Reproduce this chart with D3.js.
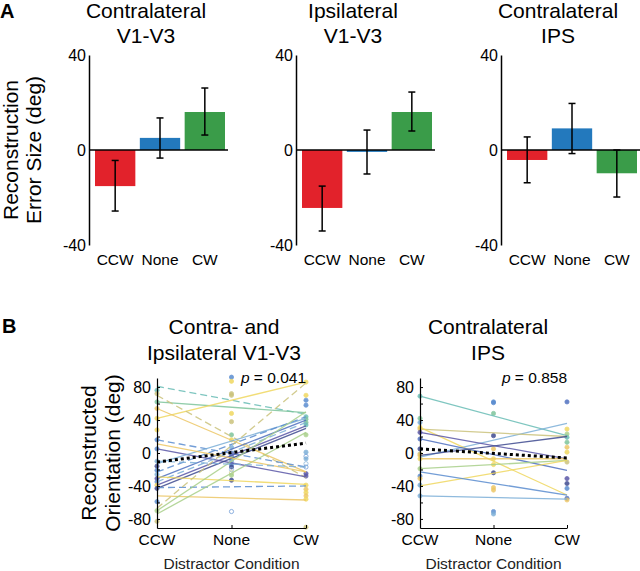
<!DOCTYPE html>
<html><head><meta charset="utf-8">
<script src="https://cdn.jsdelivr.net/npm/d3@7"></script>
<style>
body{margin:0;background:#fff;}
svg{display:block;font-family:"Liberation Sans",Arial,sans-serif;}
</style></head>
<body><svg id="c" width="640" height="571"></svg>
<script>
// ---------- DATA ----------
const categories = ["CCW", "None", "CW"];
const barTitles = [["Contralateral", "V1-V3"], ["Ipsilateral", "V1-V3"], ["Contralateral", "IPS"]];
const barMeans = [[-15.2, 5.1, 16.0], [-24.4, -0.8, 16.0], [-4.2, 9.1, -9.8]];
const barErrLow = [[-25.7, -3.4, 6.3], [-34.1, -10.1, 8.0], [-13.8, -1.5, -19.8]];
const barErrHigh = [[-4.4, 13.5, 26.1], [-15.2, 8.4, 24.4], [5.5, 19.6, 0.0]];
const barTicks = [-40, 0, 40];

const scatTitles = [["Contra- and", "Ipsilateral V1-V3"], ["Contralateral", "IPS"]];
const pValues = ["0.041", "0.858"];
const scatTicks = [-80, -40, 0, 40, 80];

// subject regression lines (value at CCW, value at CW), colour group, dashed
const leftLineCCW = [81, 62, 42, 70, 54, 16, 5, -13, -23, -31, -35, -39, -43, -42, -29, -52, -70, -67, -74, 11, -10];
const leftLineCW  = [47, 49, 86, -30, -23, -17, -29, 42, 44, 40, 37, 33, 30, -40, -38, -57, 50, 85, 25, -23, -17];
const leftLineGrp = [5, 4, 0, 2, 1, 7, 9, 6, 7, 8, 6, 9, 10, 7, 0, 1, 3, 2, 3, 1, 6];
const leftLineDash = [1, 0, 0, 1, 0, 1, 0, 0, 1, 0, 1, 0, 0, 1, 0, 0, 0, 1, 0, 0, 1];
const leftMeanLine = [-11, 12];

const rightLineCCW = [69, -5, 29, 31, 25, 17, -3, -7, -19, -40, -23, -52];
const rightLineCW  = [21, 36, 20, -51, -7, -21, 20, -7, -9, -9, -51, -56];
const rightLineGrp = [5, 6, 2, 0, 9, 8, 10, 1, 3, 0, 7, 6];
const rightMeanLine = [5, -6];

// subject points per condition
const leftPtsCCW = [76, 72, 62, 54, 42, 28, 16, 5, -10, -16, -21, -26, -31, -35, -39, -43, -59, -70, -83];
const leftGrpCCW = [5, 2, 4, 1, 0, 0, 7, 7, 6, 10, 7, 6, 9, 7, 0, 10, 7, 3, 2];
const leftPtsNone = [92, 87, 72, 70, 48, 38, 22, 16, 7, 0, -4, -7, -10, -14, -17, -20, -24, -27, -33, -71];
const leftGrpNone = [7, 0, 2, 2, 0, 2, 4, 0, 6, 9, 7, 3, 6, 7, 10, 6, 2, 3, 10, 7];
const leftPtsCW = [86, 70, 64, 58, 44, 41, 37, 34, 22, 1, -4, -7, -13, -17, -25, -28, -39, -44, -48, -52, -56, -90];
const leftGrpCW = [0, 0, 7, 7, 5, 4, 4, 5, 3, 6, 7, 6, 6, 7, 9, 9, 0, 1, 0, 1, 0, 2];
const leftHollowNone = [-71, -24, -20];
const leftHollowCW = [-4, -13, -17];

const rightPtsCCW = [69, 42, 37, 31, 29, 25, 17, 5, -1, -3, -7, -19, -28, -31, -39, -52];
const rightGrpCCW = [5, 4, 6, 0, 1, 9, 8, 10, 2, 1, 0, 3, 7, 1, 6, 6];
const rightPtsNone = [62, 61, 48, 21, 5, -7, -14, -24, -42, -45, -71, -74];
const rightGrpNone = [7, 7, 4, 10, 1, 0, 0, 10, 1, 1, 7, 6];
const rightPtsCW = [62, 29, 23, 19, 13, 7, 1, -11, -31, -37, -43, -55, -57];
const rightGrpCW = [8, 0, 3, 5, 4, 1, 0, 2, 9, 10, 7, 8, 1];

// ---------- STYLE ----------
const barColors = ["#e2222b", "#2379bd", "#3a9c49"];
const palette = ["#f0d860", "#edc766", "#cbc37c", "#a9d08a", "#7ec59c", "#69bdb6",
                 "#7cafd8", "#5b8dd0", "#4f70c0", "#5b58a8", "#3f4b90"];
const FONT_T = 21, FONT_S = 15.5, FONT_TK = 16;

const svg = d3.select("#c");

// ---------- PANEL A ----------
svg.append("text").attr("x", 0).attr("y", 18).attr("font-size", 20).attr("font-weight", "bold").text("A");
svg.append("text").attr("transform", "translate(18,150) rotate(-90)").attr("text-anchor", "middle")
  .attr("font-size", FONT_T).text("Reconstruction");
svg.append("text").attr("transform", "translate(41,150) rotate(-90)").attr("text-anchor", "middle")
  .attr("font-size", FONT_T).text("Error Size (deg)");

const yA = d3.scaleLinear().domain([-40, 40]).range([245, 55]);
const axA = [89, 296, 501];
barMeans.forEach((means, i) => {
  const g = svg.append("g").attr("transform", `translate(${axA[i]},0)`);
  const x = d3.scaleBand().domain(categories).range([6, 136]).paddingInner(0.1);
  g.selectAll("rect.bar").data(categories).enter().append("rect")
    .attr("x", c => x(c)).attr("width", x.bandwidth())
    .attr("y", (c, j) => yA(Math.max(0, means[j])))
    .attr("height", (c, j) => Math.abs(yA(means[j]) - yA(0)))
    .attr("fill", (c, j) => barColors[j]);
  g.append("line").attr("x1", 0).attr("x2", 139).attr("y1", yA(0)).attr("y2", yA(0))
    .attr("stroke", "#000").attr("stroke-width", 1.5);
  categories.forEach((c, j) => {
    const cx = x(c) + x.bandwidth() / 2;
    g.append("line").attr("x1", cx).attr("x2", cx).attr("y1", yA(barErrLow[i][j])).attr("y2", yA(barErrHigh[i][j]))
      .attr("stroke", "#000").attr("stroke-width", 1.5);
    [barErrLow[i][j], barErrHigh[i][j]].forEach(v => {
      g.append("line").attr("x1", cx - 3.5).attr("x2", cx + 3.5).attr("y1", yA(v)).attr("y2", yA(v))
        .attr("stroke", "#000").attr("stroke-width", 1.5);
    });
    g.append("text").attr("x", cx).attr("y", 265).attr("text-anchor", "middle")
      .attr("font-size", FONT_S).text(c);
  });
  const ax = g.append("g").call(d3.axisLeft(yA).tickValues(barTicks).tickSize(0).tickPadding(3).tickFormat(d => String(d)));
  ax.select(".domain").attr("stroke-width", 1.5);
  ax.selectAll("text").attr("font-size", FONT_TK).attr("font-family", "Liberation Sans, Arial");
  g.append("text").attr("x", 57).attr("y", 18).attr("text-anchor", "middle").attr("font-size", FONT_T).text(barTitles[i][0]);
  g.append("text").attr("x", 57).attr("y", 43).attr("text-anchor", "middle").attr("font-size", FONT_T).text(barTitles[i][1]);
});

// ---------- PANEL B ----------
svg.append("text").attr("x", 2).attr("y", 333).attr("font-size", 20).attr("font-weight", "bold").text("B");
svg.append("text").attr("transform", "translate(96,453) rotate(-90)").attr("text-anchor", "middle")
  .attr("font-size", FONT_T).text("Reconstructed");
svg.append("text").attr("transform", "translate(120,453) rotate(-90)").attr("text-anchor", "middle")
  .attr("font-size", FONT_T).text("Orientation (deg)");

const yB = d3.scaleLinear().domain([-91, 91]).range([528, 378]);
const scat = [
  {range: [157, 306], lCCW: leftLineCCW, lCW: leftLineCW, lGrp: leftLineGrp, lDash: leftLineDash, mean: leftMeanLine,
   pts: [leftPtsCCW, leftPtsNone, leftPtsCW], grp: [leftGrpCCW, leftGrpNone, leftGrpCW],
   hollow: [[], leftHollowNone, leftHollowCW], titleX: 224},
  {range: [420, 567], lCCW: rightLineCCW, lCW: rightLineCW, lGrp: rightLineGrp, lDash: rightLineCCW.map(() => 0), mean: rightMeanLine,
   pts: [rightPtsCCW, rightPtsNone, rightPtsCW], grp: [rightGrpCCW, rightGrpNone, rightGrpCW],
   hollow: [[], [], []], titleX: 488}
];
scat.forEach((p, i) => {
  const g = svg.append("g");
  const x = d3.scalePoint().domain(categories).range(p.range);
  // points
  p.pts.forEach((arr, j) => {
    g.selectAll(null).data(arr).enter().append("circle")
      .attr("cx", x(categories[j])).attr("cy", v => yB(v)).attr("r", 2.1)
      .attr("fill", (v, k) => p.hollow[j].includes(v) ? "none" : palette[p.grp[j][k]])
      .attr("stroke", (v, k) => palette[p.grp[j][k]]).attr("stroke-width", 0.8).attr("opacity", 0.85);
  });
  // subject lines
  g.selectAll(null).data(p.lCCW).enter().append("line")
    .attr("x1", x("CCW")).attr("x2", x("CW"))
    .attr("y1", v => yB(v)).attr("y2", (v, k) => yB(p.lCW[k]))
    .attr("stroke", (v, k) => palette[p.lGrp[k]]).attr("stroke-width", 1.3).attr("opacity", 0.85)
    .attr("stroke-dasharray", (v, k) => p.lDash[k] ? "7,4" : null);
  // group mean line
  g.append("line").attr("x1", x("CCW")).attr("x2", x("CW"))
    .attr("y1", yB(p.mean[0])).attr("y2", yB(p.mean[1]))
    .attr("stroke", "#000").attr("stroke-width", 3).attr("stroke-dasharray", "3,3");
  // axes
  const ay = g.append("g").attr("transform", `translate(${p.range[0]},0)`)
    .call(d3.axisLeft(yB).tickValues(d3.range(-80, 81, 20)).tickSizeInner(-3).tickSizeOuter(0).tickPadding(6)
      .tickFormat(d => scatTicks.includes(d) ? String(d) : ""));
  ay.select(".domain").attr("stroke-width", 1.2);
  ay.selectAll("text").attr("font-size", FONT_TK).attr("font-family", "Liberation Sans, Arial");
  const axb = g.append("g").attr("transform", `translate(0,528)`)
    .call(d3.axisBottom(x).tickSizeInner(-3).tickSizeOuter(0).tickFormat(""));
  axb.select(".domain").attr("stroke-width", 1.2);
  categories.forEach(c => {
    g.append("text").attr("x", x(c)).attr("y", 545).attr("text-anchor", "middle").attr("font-size", FONT_S).text(c);
  });
  g.append("text").attr("x", x("None")).attr("y", 569).attr("text-anchor", "middle").attr("font-size", FONT_S)
    .attr("fill", "#222").text("Distractor Condition");
  const pt = g.append("text").attr("x", x("CW")).attr("y", 383).attr("text-anchor", "end").attr("font-size", FONT_S);
  pt.append("tspan").attr("font-style", "italic").text("p");
  pt.append("tspan").text(" = " + pValues[i]);
  g.append("text").attr("x", p.titleX).attr("y", 334).attr("text-anchor", "middle").attr("font-size", FONT_T).text(scatTitles[i][0]);
  g.append("text").attr("x", p.titleX).attr("y", 360).attr("text-anchor", "middle").attr("font-size", FONT_T).text(scatTitles[i][1]);
});
</script></body></html>
